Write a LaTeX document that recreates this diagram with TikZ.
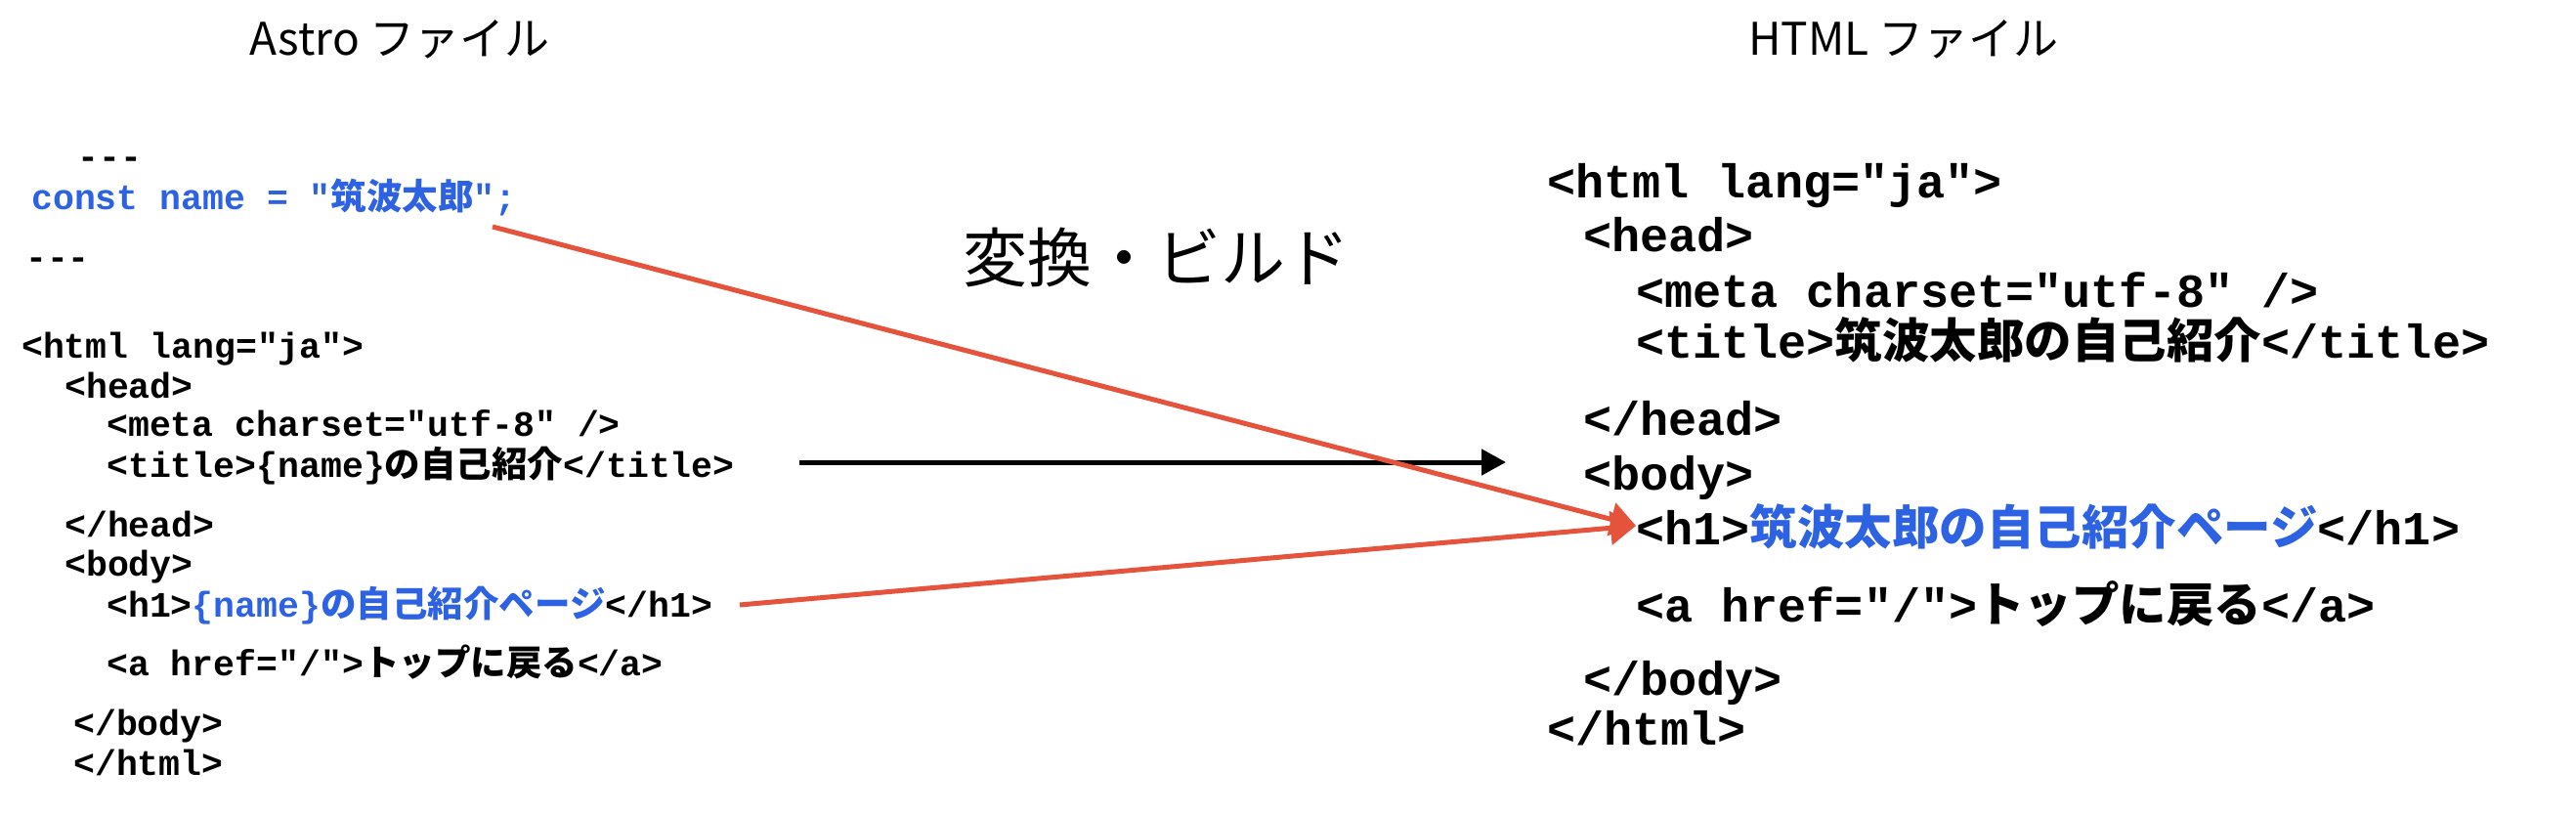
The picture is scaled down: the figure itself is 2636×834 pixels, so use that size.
\documentclass[tikz,border=0pt]{standalone}
\usepackage{fontspec}
\newfontfamily\monofam{Liberation Mono}
\newfontfamily\cjkfam{Noto Sans CJK JP}
\usetikzlibrary{arrows.meta}
\definecolor{codeblue}{HTML}{2D63E2}
\definecolor{arrowred}{HTML}{E5533C}
\newcommand\jp[1]{{\cjkfam\bfseries #1}}
\tikzset{
  lcode/.style={anchor=base west, inner sep=0pt, font=\monofam\bfseries\fontsize{36.5}{40}\selectfont},
  rcode/.style={anchor=base west, inner sep=0pt, font=\monofam\bfseries\fontsize{48.5}{52}\selectfont},
  header/.style={anchor=base, inner sep=0pt, font=\cjkfam\fontsize{46}{50}\selectfont},
  buildlabel/.style={anchor=center, inner sep=0pt, font=\cjkfam\fontsize{66}{70}\selectfont},
  blackarrow/.style={line width=5pt, -{Triangle[length=25pt,width=26pt]}},
  redarrow/.style={draw=arrowred, line width=5pt, -{Triangle[length=26pt,width=34pt]}, fill=arrowred}
}
\begin{document}
\begin{tikzpicture}[x=1pt,y=-1pt]
\useasboundingbox[fill=white] (0,0) rectangle (2636,834);

% headers
\node[header] (hl) at (409,57) {Astro ファイル};
\node[header] (hr) at (1948,57) {HTML ファイル};
\node[buildlabel] (conv) at (1183,263) {変換・ビルド};

% left: Astro file
\node[lcode] (ld1) at (79,173) {---};
\node[lcode, text=codeblue] (lconst) at (32,215) {const name = "\jp{筑波太郎}";};
\node[lcode] (ld2) at (26,276) {---};
\node[lcode] (lhtml) at (22,366) {<html lang="ja">};
\node[lcode] (lhead) at (66,407) {<head>};
\node[lcode] (lmeta) at (109,446) {<meta charset="utf-8" />};
\node[lcode] (ltitle) at (109,488) {<title>\{name\}\jp{の自己紹介}</title>};
\node[lcode] (lhead2) at (66,549) {</head>};
\node[lcode] (lbody) at (66,589) {<body>};
\node[lcode] (lh1) at (109,631) {<h1>\textcolor{codeblue}{\{name\}\jp{の自己紹介ページ}}</h1>};
\node[lcode] (la) at (109,691) {<a href="/">\jp{トップに戻る}</a>};
\node[lcode] (lbody2) at (75,752) {</body>};
\node[lcode] (lhtml2) at (75,793) {</html>};

% right: HTML file
\node[rcode] (rhtml) at (1583,203) {<html lang="ja">};
\node[rcode] (rhead) at (1620,258) {<head>};
\node[rcode] (rmeta) at (1674,314) {<meta charset="utf-8" />};
\node[rcode] (rtitle) at (1674,366) {<title>\jp{筑波太郎の自己紹介}</title>};
\node[rcode] (rhead2) at (1620,445) {</head>};
\node[rcode] (rbody) at (1620,501) {<body>};
\node[rcode] (rh1) at (1674,557) {<h1>\textcolor{codeblue}{\jp{筑波太郎の自己紹介ページ}}</h1>};
\node[rcode] (ra) at (1674,636) {<a href="/">\jp{トップに戻る}</a>};
\node[rcode] (rbody2) at (1620,711) {</body>};
\node[rcode] (rhtml2) at (1583,762) {</html>};

% connectors
\coordinate (bs) at (818,473);
\coordinate (be) at (1541,473);
\draw[blackarrow] (bs) -- (be);

\coordinate (r1s) at (504,232);
\coordinate (r2s) at (757,619);
\coordinate (tip) at (1674,538);
\draw[redarrow] (r1s) -- (tip);
\draw[redarrow] (r2s) -- (tip);
\end{tikzpicture}
\end{document}
